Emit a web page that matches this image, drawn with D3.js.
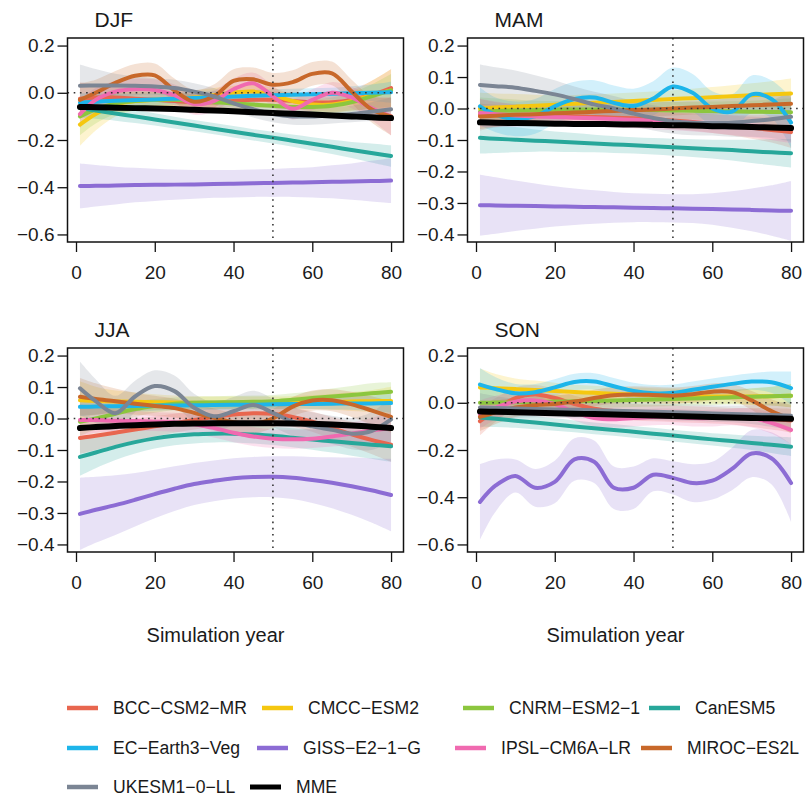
<!DOCTYPE html>
<html><head><meta charset="utf-8">
<script src="https://cdn.jsdelivr.net/npm/d3@7/dist/d3.min.js"></script>
<style>
body{margin:0;background:#fff}
svg{display:block}
text{font-family:"Liberation Sans",Arial,Helvetica,sans-serif;fill:#1a1a1a}
</style>
</head><body>
<svg id="chart" width="806" height="800"></svg>
<script>
// ---------------- data ----------------
const years = [1,5,10,15,20,25,30,35,40,45,50,55,60,65,70,75,80];
const models = ["BCC-CSM2-MR","CMCC-ESM2","CNRM-ESM2-1","CanESM5","EC-Earth3-Veg","GISS-E2-1-G","IPSL-CM6A-LR","MIROC-ES2L","UKESM1-0-LL","MME"];
const palette = ["#E8664F","#F5C710","#8CC63E","#27A79A","#1DB5EA","#8C6CD4","#F06AB0","#C8682A","#7B8594","#000000"];
const seasons = ["DJF","MAM","JJA","SON"];
const xTicks = [0,20,40,60,80];
const yTicksDJF = [-0.6,-0.4,-0.2,0,0.2];
const yTicksMAM = [-0.4,-0.3,-0.2,-0.1,0,0.1,0.2];
const yTicksJJA = [-0.4,-0.3,-0.2,-0.1,0,0.1,0.2];
const yTicksSON = [-0.6,-0.4,-0.2,0,0.2];
const refYear = 50;
const xLabel = "Simulation year";

// smoothed anomaly (rows follow `models`)
const djfMean = [
 [-0.025,-0.02,-0.02,-0.025,-0.03,-0.035,-0.04,-0.04,-0.035,-0.03,-0.03,-0.035,-0.04,-0.04,-0.03,-0.01,0.02],
 [-0.135,-0.09,-0.05,-0.035,-0.03,-0.025,-0.02,-0.01,0.0,0.005,-0.01,-0.035,-0.05,-0.05,-0.035,-0.01,0.01],
 [-0.1,-0.07,-0.045,-0.035,-0.03,-0.03,-0.035,-0.04,-0.045,-0.05,-0.055,-0.06,-0.06,-0.055,-0.04,-0.015,0.01],
 [-0.065,-0.075,-0.088,-0.1,-0.113,-0.126,-0.139,-0.152,-0.165,-0.178,-0.19,-0.203,-0.216,-0.229,-0.242,-0.255,-0.268],
 [-0.042,-0.038,-0.034,-0.031,-0.028,-0.025,-0.022,-0.019,-0.016,-0.013,-0.01,-0.008,-0.006,-0.004,-0.002,0.0,0.002],
 [-0.395,-0.394,-0.393,-0.391,-0.39,-0.389,-0.388,-0.386,-0.385,-0.383,-0.382,-0.38,-0.379,-0.377,-0.376,-0.374,-0.372],
 [-0.09,-0.03,0.005,0.015,0.012,-0.01,-0.048,-0.035,0.015,0.04,-0.015,-0.068,-0.03,0.0,-0.02,-0.065,-0.1],
 [-0.03,0.0,0.042,0.072,0.074,0.01,-0.038,-0.015,0.05,0.057,0.034,0.045,0.08,0.082,0.005,-0.07,-0.1],
 [0.03,0.031,0.031,0.03,0.027,0.02,0.005,-0.015,-0.045,-0.07,-0.09,-0.1,-0.1,-0.095,-0.09,-0.08,-0.07],
 [-0.06,-0.061,-0.063,-0.065,-0.067,-0.069,-0.072,-0.075,-0.078,-0.082,-0.086,-0.089,-0.092,-0.096,-0.1,-0.104,-0.107]
];
// half-width of confidence band (rows follow `models`; MME has none)
const djfHW = [
 [0.07,0.055,0.045,0.04,0.035,0.035,0.035,0.035,0.035,0.035,0.035,0.035,0.035,0.04,0.045,0.06,0.08],
 [0.09,0.07,0.05,0.04,0.035,0.03,0.03,0.03,0.03,0.03,0.03,0.03,0.03,0.035,0.04,0.06,0.09],
 [0.08,0.06,0.045,0.04,0.035,0.03,0.03,0.03,0.03,0.03,0.03,0.03,0.03,0.035,0.04,0.05,0.07],
 [0.04,0.035,0.03,0.028,0.026,0.025,0.024,0.024,0.024,0.024,0.025,0.026,0.028,0.03,0.034,0.04,0.045],
 [0.04,0.035,0.03,0.027,0.025,0.025,0.025,0.025,0.025,0.025,0.025,0.025,0.025,0.025,0.03,0.035,0.045],
 [0.095,0.088,0.08,0.073,0.068,0.064,0.061,0.059,0.058,0.058,0.059,0.061,0.064,0.07,0.077,0.086,0.095],
 [0.06,0.05,0.045,0.045,0.045,0.045,0.045,0.045,0.045,0.045,0.045,0.045,0.045,0.045,0.045,0.05,0.08],
 [0.07,0.055,0.05,0.05,0.05,0.05,0.05,0.05,0.05,0.05,0.05,0.05,0.05,0.05,0.05,0.055,0.08],
 [0.09,0.07,0.05,0.04,0.035,0.035,0.035,0.035,0.035,0.035,0.035,0.035,0.035,0.035,0.035,0.04,0.05],
 null
];

const mamMean = [
 [-0.02,-0.02,-0.021,-0.022,-0.023,-0.025,-0.027,-0.029,-0.031,-0.034,-0.038,-0.043,-0.048,-0.054,-0.061,-0.068,-0.075],
 [0.0,0.003,0.006,0.009,0.012,0.015,0.018,0.021,0.024,0.027,0.03,0.033,0.036,0.039,0.042,0.045,0.048],
 [-0.01,-0.008,-0.006,-0.005,-0.004,-0.003,-0.003,-0.003,-0.004,-0.005,-0.006,-0.007,-0.008,-0.009,-0.01,-0.011,-0.012],
 [-0.093,-0.096,-0.099,-0.102,-0.105,-0.108,-0.111,-0.114,-0.117,-0.12,-0.123,-0.126,-0.129,-0.132,-0.136,-0.139,-0.142],
 [0.007,-0.02,-0.033,-0.025,0.007,0.03,0.035,0.018,0.008,0.032,0.07,0.05,0.0,-0.01,0.045,0.03,-0.045],
 [-0.307,-0.308,-0.309,-0.31,-0.311,-0.312,-0.313,-0.314,-0.315,-0.316,-0.317,-0.318,-0.319,-0.321,-0.322,-0.324,-0.325],
 [-0.014,-0.018,-0.022,-0.025,-0.027,-0.029,-0.031,-0.033,-0.036,-0.039,-0.042,-0.045,-0.048,-0.052,-0.056,-0.06,-0.065],
 [-0.025,-0.023,-0.02,-0.018,-0.015,-0.013,-0.01,-0.008,-0.005,-0.003,0.0,0.003,0.005,0.008,0.01,0.013,0.015],
 [0.075,0.071,0.066,0.056,0.045,0.03,0.013,0.0,-0.016,-0.03,-0.04,-0.045,-0.046,-0.045,-0.04,-0.034,-0.026],
 [-0.044,-0.045,-0.046,-0.047,-0.048,-0.049,-0.049,-0.05,-0.051,-0.052,-0.053,-0.054,-0.056,-0.057,-0.059,-0.06,-0.062]
];
const mamHW = [
 [0.05,0.04,0.035,0.03,0.028,0.027,0.027,0.027,0.027,0.027,0.027,0.028,0.03,0.032,0.035,0.04,0.05],
 [0.05,0.045,0.04,0.035,0.03,0.028,0.027,0.027,0.027,0.027,0.028,0.03,0.032,0.035,0.038,0.042,0.047],
 [0.045,0.04,0.035,0.03,0.028,0.027,0.027,0.027,0.027,0.027,0.027,0.028,0.03,0.032,0.035,0.04,0.045],
 [0.05,0.045,0.04,0.035,0.032,0.03,0.028,0.027,0.026,0.026,0.027,0.028,0.03,0.033,0.037,0.041,0.045],
 [0.06,0.055,0.055,0.055,0.055,0.055,0.055,0.055,0.055,0.055,0.06,0.06,0.055,0.055,0.06,0.06,0.08],
 [0.097,0.09,0.08,0.072,0.064,0.058,0.053,0.049,0.046,0.045,0.045,0.046,0.05,0.058,0.068,0.08,0.095],
 [0.045,0.04,0.035,0.03,0.028,0.027,0.027,0.027,0.027,0.027,0.027,0.028,0.03,0.032,0.035,0.04,0.045],
 [0.04,0.035,0.03,0.027,0.025,0.023,0.022,0.022,0.022,0.022,0.022,0.022,0.023,0.025,0.027,0.03,0.035],
 [0.065,0.06,0.055,0.05,0.045,0.04,0.04,0.04,0.04,0.04,0.04,0.04,0.04,0.045,0.05,0.06,0.08],
 null
];

const jjaMean = [
 [-0.062,-0.055,-0.045,-0.035,-0.025,-0.015,-0.005,0.005,0.013,0.017,0.015,0.005,-0.01,-0.03,-0.05,-0.068,-0.083],
 [0.058,0.056,0.054,0.053,0.052,0.051,0.05,0.05,0.05,0.05,0.05,0.051,0.052,0.053,0.054,0.055,0.056],
 [-0.01,0.0,0.015,0.03,0.04,0.047,0.05,0.051,0.052,0.053,0.055,0.06,0.065,0.07,0.075,0.08,0.085],
 [-0.122,-0.108,-0.09,-0.075,-0.063,-0.055,-0.05,-0.048,-0.048,-0.051,-0.055,-0.061,-0.067,-0.072,-0.078,-0.083,-0.088],
 [0.037,0.038,0.039,0.04,0.041,0.041,0.042,0.043,0.044,0.044,0.045,0.046,0.046,0.047,0.048,0.048,0.049],
 [-0.303,-0.29,-0.275,-0.258,-0.24,-0.223,-0.208,-0.198,-0.19,-0.186,-0.185,-0.188,-0.195,-0.204,-0.215,-0.228,-0.243],
 [-0.005,-0.005,-0.007,-0.008,-0.01,-0.012,-0.018,-0.03,-0.045,-0.057,-0.064,-0.066,-0.064,-0.057,-0.048,-0.038,-0.03],
 [0.069,0.062,0.055,0.047,0.04,0.033,0.018,0.002,-0.012,-0.017,0.0,0.038,0.057,0.058,0.045,0.026,0.005],
 [0.096,0.055,0.017,0.07,0.103,0.087,0.034,0.007,0.023,0.043,0.018,-0.01,-0.025,-0.036,-0.048,-0.04,-0.003],
 [-0.03,-0.027,-0.024,-0.021,-0.019,-0.017,-0.016,-0.015,-0.015,-0.015,-0.015,-0.016,-0.017,-0.019,-0.022,-0.026,-0.03]
];
const jjaHW = [
 [0.05,0.045,0.04,0.035,0.032,0.03,0.03,0.03,0.03,0.03,0.03,0.03,0.032,0.035,0.04,0.045,0.055],
 [0.06,0.045,0.035,0.03,0.025,0.022,0.02,0.02,0.02,0.02,0.02,0.02,0.022,0.025,0.03,0.035,0.045],
 [0.045,0.035,0.03,0.025,0.022,0.02,0.02,0.02,0.02,0.02,0.02,0.02,0.022,0.025,0.028,0.032,0.03],
 [0.06,0.05,0.042,0.036,0.032,0.03,0.029,0.028,0.028,0.028,0.029,0.03,0.032,0.036,0.04,0.045,0.05],
 [0.03,0.025,0.02,0.018,0.016,0.015,0.015,0.015,0.015,0.015,0.015,0.015,0.016,0.018,0.02,0.025,0.03],
 [0.115,0.105,0.095,0.085,0.077,0.071,0.067,0.065,0.064,0.064,0.065,0.068,0.073,0.081,0.091,0.102,0.115],
 [0.05,0.04,0.035,0.032,0.03,0.03,0.03,0.03,0.03,0.03,0.03,0.03,0.03,0.032,0.035,0.04,0.05],
 [0.06,0.05,0.04,0.035,0.032,0.03,0.03,0.03,0.03,0.03,0.03,0.03,0.032,0.035,0.04,0.045,0.05],
 [0.085,0.07,0.055,0.05,0.05,0.05,0.045,0.045,0.045,0.045,0.045,0.045,0.045,0.045,0.05,0.06,0.07],
 null
];

const sonMean = [
 [-0.078,-0.03,0.02,0.035,0.02,-0.005,-0.025,-0.035,-0.04,-0.043,-0.046,-0.05,-0.053,-0.057,-0.062,-0.068,-0.075],
 [0.065,0.062,0.058,0.054,0.05,0.046,0.042,0.038,0.035,0.032,0.03,0.028,0.027,0.027,0.027,0.028,0.03],
 [0.0,0.001,0.002,0.003,0.005,0.006,0.008,0.01,0.012,0.014,0.016,0.018,0.02,0.023,0.026,0.028,0.03],
 [-0.062,-0.068,-0.076,-0.084,-0.092,-0.1,-0.108,-0.115,-0.123,-0.131,-0.139,-0.147,-0.155,-0.162,-0.17,-0.178,-0.186],
 [0.077,0.058,0.04,0.045,0.065,0.088,0.09,0.07,0.05,0.04,0.042,0.055,0.068,0.08,0.09,0.087,0.062],
 [-0.42,-0.35,-0.31,-0.36,-0.335,-0.24,-0.25,-0.36,-0.36,-0.305,-0.318,-0.34,-0.33,-0.28,-0.215,-0.235,-0.34],
 [-0.05,-0.02,0.005,0.01,-0.005,-0.04,-0.065,-0.07,-0.065,-0.06,-0.06,-0.065,-0.065,-0.06,-0.065,-0.085,-0.115],
 [-0.06,-0.04,-0.02,-0.01,-0.005,0.005,0.02,0.032,0.035,0.033,0.03,0.036,0.047,0.045,0.01,-0.035,-0.07],
 [-0.02,-0.022,-0.024,-0.026,-0.028,-0.03,-0.032,-0.034,-0.036,-0.038,-0.04,-0.042,-0.045,-0.047,-0.05,-0.052,-0.055],
 [-0.037,-0.038,-0.04,-0.042,-0.044,-0.046,-0.048,-0.05,-0.052,-0.054,-0.056,-0.058,-0.06,-0.062,-0.064,-0.066,-0.068]
];
const sonHW = [
 [0.06,0.05,0.045,0.04,0.038,0.035,0.035,0.035,0.035,0.035,0.035,0.035,0.035,0.035,0.04,0.045,0.05],
 [0.08,0.06,0.045,0.04,0.035,0.03,0.03,0.03,0.03,0.03,0.03,0.03,0.03,0.03,0.035,0.04,0.05],
 [0.06,0.05,0.04,0.035,0.03,0.03,0.03,0.03,0.03,0.03,0.03,0.03,0.03,0.03,0.035,0.04,0.05],
 [0.04,0.035,0.03,0.028,0.026,0.025,0.025,0.025,0.025,0.025,0.025,0.025,0.026,0.028,0.03,0.035,0.04],
 [0.07,0.05,0.04,0.035,0.035,0.035,0.035,0.035,0.035,0.035,0.035,0.035,0.035,0.035,0.035,0.045,0.07],
 [0.16,0.11,0.07,0.08,0.09,0.09,0.09,0.09,0.09,0.07,0.07,0.08,0.08,0.09,0.1,0.11,0.165],
 [0.06,0.05,0.04,0.035,0.035,0.035,0.035,0.035,0.035,0.035,0.035,0.035,0.035,0.035,0.04,0.045,0.06],
 [0.06,0.05,0.04,0.035,0.035,0.035,0.035,0.035,0.035,0.035,0.035,0.035,0.035,0.035,0.04,0.05,0.06],
 [0.06,0.05,0.04,0.035,0.035,0.035,0.035,0.035,0.035,0.035,0.035,0.035,0.035,0.035,0.04,0.05,0.06],
 null
];

// ---------------- layout ----------------
const svg = d3.select("#chart");
const boxW = 336, boxH = 204;
const panels = [
  {name: seasons[0], mean: djfMean, hw: djfHW, ticks: yTicksDJF, left: 67.5, top: 38, xlab: false},
  {name: seasons[1], mean: mamMean, hw: mamHW, ticks: yTicksMAM, left: 467.5, top: 38, xlab: false},
  {name: seasons[2], mean: jjaMean, hw: jjaHW, ticks: yTicksJJA, left: 67.5, top: 348, xlab: true},
  {name: seasons[3], mean: sonMean, hw: sonHW, ticks: yTicksSON, left: 467.5, top: 348, xlab: true}
];
const fmt = d3.format(".1f");
const xExt = d3.extent(years), xPad = 0.04 * (xExt[1] - xExt[0]);

panels.forEach((p, pi) => {
  const x = d3.scaleLinear().domain([xExt[0] - xPad, xExt[1] + xPad]).range([p.left, p.left + boxW]);
  const yExt = d3.extent(p.ticks), yPad = 0.04 * (yExt[1] - yExt[0]);
  const y = d3.scaleLinear().domain([yExt[0] - yPad, yExt[1] + yPad]).range([p.top + boxH, p.top]);
  const g = svg.append("g");
  const clipId = "clip" + pi;
  g.append("clipPath").attr("id", clipId).append("rect")
    .attr("x", p.left).attr("y", p.top).attr("width", boxW).attr("height", boxH);
  const plot = g.append("g").attr("clip-path", `url(#${clipId})`);

  const curve = d3.curveCatmullRom.alpha(0.5);
  const area = d3.area().x(d => x(d.x)).y0(d => y(d.lo)).y1(d => y(d.hi)).curve(curve);
  const line = d3.line().x(d => x(d.x)).y(d => y(d.v)).curve(curve);

  // confidence ribbons
  models.forEach((m, i) => {
    if (!p.hw[i]) return;
    const pts = years.map((yr, k) => ({x: yr, lo: p.mean[i][k] - p.hw[i][k], hi: p.mean[i][k] + p.hw[i][k]}));
    plot.append("path").attr("d", area(pts)).attr("fill", palette[i]).attr("fill-opacity", 0.2).attr("stroke", "none");
  });
  // mean lines
  models.forEach((m, i) => {
    const pts = years.map((yr, k) => ({x: yr, v: p.mean[i][k]}));
    plot.append("path").attr("d", line(pts)).attr("fill", "none")
      .attr("stroke", palette[i]).attr("stroke-width", m === "MME" ? 6 : 4)
      .attr("stroke-linecap", "round").attr("stroke-linejoin", "round");
  });
  // reference dotted lines
  plot.append("line").attr("x1", p.left).attr("x2", p.left + boxW).attr("y1", y(0)).attr("y2", y(0))
    .attr("stroke", "#333").attr("stroke-width", 1.6).attr("stroke-dasharray", "1.6,4.6");
  plot.append("line").attr("x1", x(refYear)).attr("x2", x(refYear)).attr("y1", p.top).attr("y2", p.top + boxH)
    .attr("stroke", "#333").attr("stroke-width", 1.6).attr("stroke-dasharray", "1.6,4.6");

  // box
  g.append("rect").attr("x", p.left).attr("y", p.top).attr("width", boxW).attr("height", boxH)
    .attr("fill", "none").attr("stroke", "#111").attr("stroke-width", 1.5);

  // y axis
  const ya = g.append("g").attr("transform", `translate(${p.left},0)`)
    .call(d3.axisLeft(y).tickValues(p.ticks).tickFormat(fmt).tickSize(10).tickPadding(3));
  ya.select(".domain").remove();
  ya.selectAll("line").attr("stroke", "#111").attr("stroke-width", 1.3);
  ya.selectAll("text").attr("font-size", 19).attr("fill", "#1a1a1a")
    .style("font-family", '"Liberation Sans",Arial,sans-serif');

  // x axis
  const xa = g.append("g").attr("transform", `translate(0,${p.top + boxH})`)
    .call(d3.axisBottom(x).tickValues(xTicks).tickFormat(d3.format("d")).tickSize(10).tickPadding(14));
  xa.select(".domain").remove();
  xa.selectAll("line").attr("stroke", "#111").attr("stroke-width", 1.3);
  xa.selectAll("text").attr("font-size", 19).attr("fill", "#1a1a1a")
    .style("font-family", '"Liberation Sans",Arial,sans-serif');

  // title
  g.append("text").attr("x", p.left + 27).attr("y", p.top - 11).attr("font-size", 21).text(p.name);
  if (p.xlab) {
    g.append("text").attr("x", p.left + 148).attr("y", p.top + boxH + 90)
      .attr("text-anchor", "middle").attr("font-size", 20).text(xLabel);
  }
});

// ---------------- legend ----------------
const legendRows = [[0,1,2,3],[4,5,6,7],[8,9]];
const legendRowY = [708, 748, 787];
const legendColX = [[67,262,463,649],[67,257,455,641],[67,250]];
const lg = svg.append("g");
legendRows.forEach((row, r) => {
  row.forEach((mi, c) => {
    const x0 = legendColX[r][c], y0 = legendRowY[r];
    lg.append("line").attr("x1", x0).attr("x2", x0 + 31).attr("y1", y0).attr("y2", y0)
      .attr("stroke", palette[mi]).attr("stroke-width", models[mi] === "MME" ? 5 : 4.5);
    lg.append("text").attr("x", x0 + 46).attr("y", y0).attr("dy", "0.36em").attr("font-size", 17.6)
      .text(models[mi].replace(/-/g, "\u2212"));
  });
});
</script>
</body></html>
